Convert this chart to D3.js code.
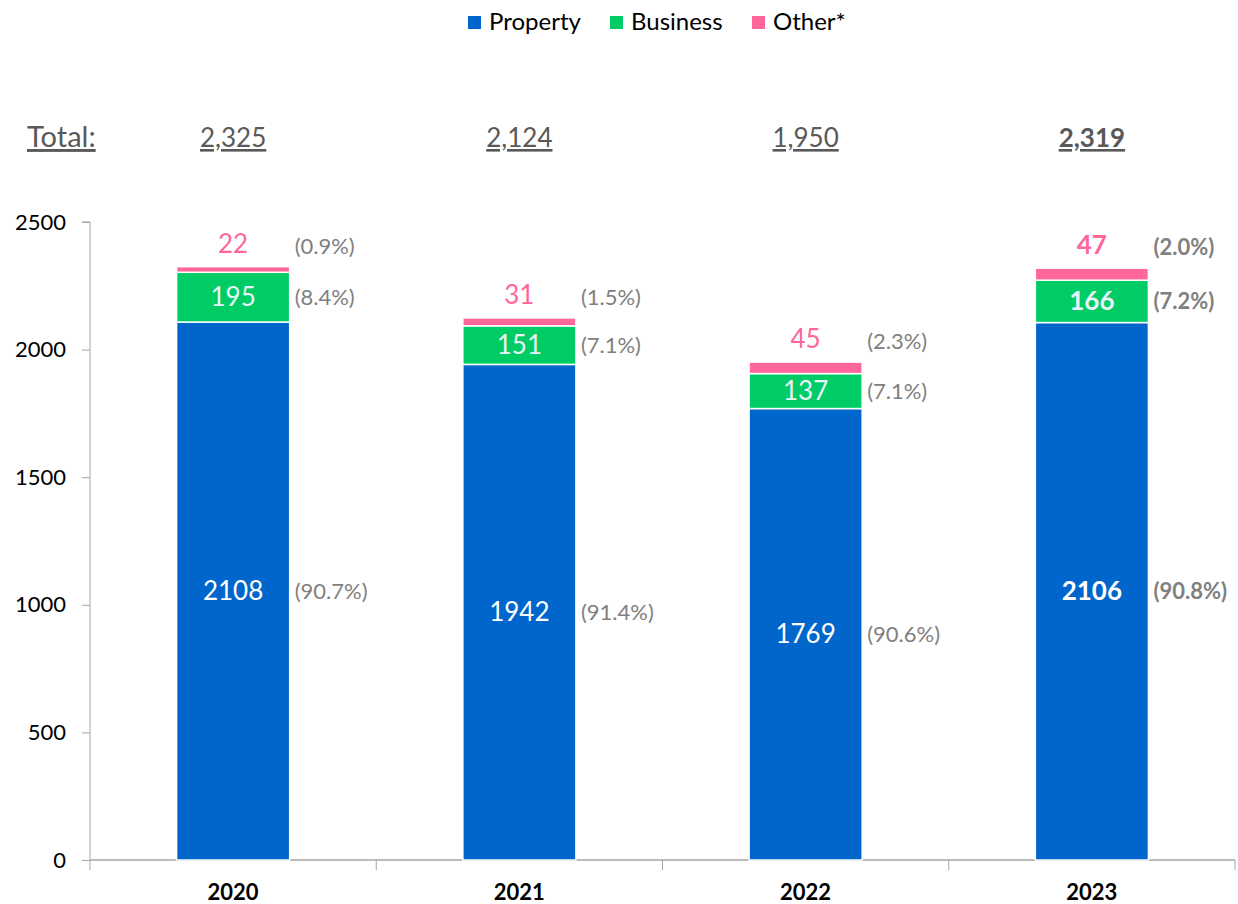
<!DOCTYPE html>
<html>
<head>
<meta charset="utf-8">
<script src="https://cdn.jsdelivr.net/npm/d3@7"></script>
<style>
  body { margin: 0; background: #fff; }
  svg text { font-family: Lato, "Open Sans", sans-serif; }
</style>
</head>
<body>
<div id="chart"></div>
<script>
// data
var years = ["2020", "2021", "2022", "2023"];
var property = [2108, 1942, 1769, 2106];
var business = [195, 151, 137, 166];
var other = [22, 31, 45, 47];
var totals = ["2,325", "2,124", "1,950", "2,319"];
var pctProperty = ["(90.7%)", "(91.4%)", "(90.6%)", "(90.8%)"];
var pctBusiness = ["(8.4%)", "(7.1%)", "(7.1%)", "(7.2%)"];
var pctOther = ["(0.9%)", "(1.5%)", "(2.3%)", "(2.0%)"];
var seriesNames = ["Property", "Business", "Other*"];
var colors = ["#0066cc", "#00cc66", "#ff6699"];

var W = 1238, H = 904;
var margin = {top: 222, right: 3, bottom: 44, left: 90};
var width = W - margin.left - margin.right,
    height = H - margin.top - margin.bottom;

var svg = d3.select("#chart").append("svg")
    .attr("width", W).attr("height", H);

var g = svg.append("g")
    .attr("transform", `translate(${margin.left}, ${margin.top})`);

var x = d3.scaleBand().domain(years).range([0, width]).paddingInner(0.605).paddingOuter(0.3025);
var xb = d3.scaleBand().domain(years).range([0, width]);
var y = d3.scaleLinear().domain([0, 2500]).range([height, 0]);

// stacked table
var rows = years.map(function(yr, i) {
  return {year: yr, Property: property[i], Business: business[i], "Other*": other[i], i: i};
});
var stack = d3.stack().keys(seriesNames)(rows);

// y axis
var yAxis = g.append("g")
  .call(d3.axisLeft(y).tickValues([0, 500, 1000, 1500, 2000, 2500]).tickFormat(d3.format("d")).tickSize(8).tickPadding(16));
yAxis.selectAll("text").style("font-size", "22px").attr("fill", "#000");
yAxis.selectAll("line").attr("stroke", "#a6a6a6");
yAxis.select(".domain").attr("stroke", "#a6a6a6").attr("d", `M0,${height}V0H-8`);

// x axis: ticks at band boundaries, going down
var xAxis = g.append("g").attr("transform", `translate(0, ${height})`);
xAxis.append("line").attr("x1", 0).attr("x2", width).attr("stroke", "#a6a6a6").attr("stroke-width", 1.3);
xAxis.selectAll(".bt").data(years.concat(["end"])).enter().append("line")
  .attr("x1", function(d, i) { return i * xb.step(); })
  .attr("x2", function(d, i) { return i * xb.step(); })
  .attr("y1", 0).attr("y2", 10)
  .attr("stroke", "#a6a6a6");
xAxis.selectAll(".yl").data(years).enter().append("text")
  .attr("x", function(d) { return x(d) + x.bandwidth() / 2; })
  .attr("y", 40)
  .attr("text-anchor", "middle")
  .style("font-size", "22px").style("font-weight", "bold")
  .text(function(d) { return d; });

// bars
g.selectAll(".layer").data(stack).enter().append("g")
  .attr("fill", function(d, i) { return colors[i]; })
  .selectAll("rect").data(function(d) { return d; }).enter().append("rect")
    .attr("x", function(d) { return x(d.data.year); })
    .attr("width", x.bandwidth())
    .attr("y", function(d) { return y(d[1]); })
    .attr("height", function(d) { return y(d[0]) - y(d[1]); })
    .attr("stroke", "#fff").attr("stroke-width", 1.5);

// value labels
var bold = function(d) { return d.i === 3 ? "bold" : "normal"; };
function addLabels(vals, layer, color, inside) {
  g.selectAll(".lab-" + layer).data(rows).enter().append("text")
    .attr("x", function(d) { return x(d.year) + x.bandwidth() / 2; })
    .attr("y", function(d) {
      var s = stack[layer][d.i];
      return inside ? y((s[0] + s[1]) / 2) : y(s[1]) - 14;
    })
    .attr("dy", inside ? "0.35em" : "0")
    .attr("text-anchor", "middle")
    .attr("fill", color)
    .style("font-size", "26px").style("font-weight", bold)
    .text(function(d) { return vals[d.i]; });
}
addLabels(property, 0, "#fff", true);
addLabels(business, 1, "#e8f4f8", true);
addLabels(other, 2, "#ff6699", false);

// percentage labels
function addPct(vals, layer) {
  g.selectAll(".pct-" + layer).data(rows).enter().append("text")
    .attr("x", function(d) { return x(d.year) + x.bandwidth() + 5; })
    .attr("y", function(d) {
      var s = stack[layer][d.i];
      return layer === 2 ? y(s[1]) - 13 : y((s[0] + s[1]) / 2);
    })
    .attr("dy", layer === 2 ? "0" : "0.35em")
    .attr("fill", "#808080")
    .style("font-size", "22px").style("font-weight", bold)
    .text(function(d) { return vals[d.i]; });
}
addPct(pctProperty, 0);
addPct(pctBusiness, 1);
addPct(pctOther, 2);

// totals row
svg.append("text")
  .attr("x", 27).attr("y", 147)
  .attr("fill", "#595959")
  .style("font-size", "29px").style("text-decoration", "underline")
  .text("Total:");
svg.selectAll(".tot").data(rows).enter().append("text")
  .attr("x", function(d) { return margin.left + x(d.year) + x.bandwidth() / 2; })
  .attr("y", 147)
  .attr("text-anchor", "middle")
  .attr("fill", "#595959")
  .style("font-size", "26px").style("font-weight", bold)
  .style("text-decoration", "underline")
  .text(function(d) { return totals[d.i]; });

// legend
var legend = svg.append("g").attr("transform", "translate(468, 22)");
var lx = [0, 142, 284];
seriesNames.forEach(function(name, i) {
  legend.append("rect").attr("x", lx[i]).attr("y", -6).attr("width", 13).attr("height", 13).attr("fill", colors[i]);
  legend.append("text").attr("x", lx[i] + 21).attr("y", 0).attr("dy", "0.35em")
    .style("font-size", "24px").attr("fill", "#000").text(name);
});
</script>
</body>
</html>
